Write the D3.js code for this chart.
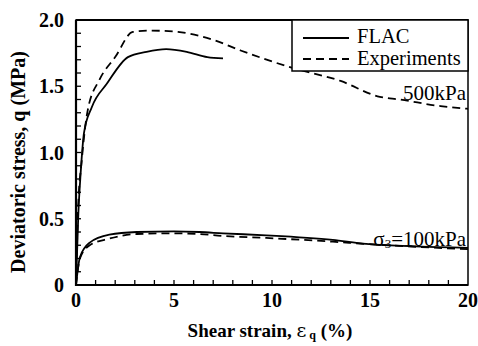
<!DOCTYPE html>
<html>
<head>
<meta charset="utf-8">
<script src="https://cdn.jsdelivr.net/npm/d3@7"></script>
<style>
body { margin: 0; background: #fff; }
svg text { font-family: "Liberation Serif", "Times New Roman", serif; fill: #000; }
.tick-label { font-size: 20px; font-weight: bold; }
.title { font-size: 20px; font-weight: bold; }
.legend { font-size: 20.5px; }
.note { font-size: 21px; }
</style>
</head>
<body>
<div id="chart"></div>
<script>

var margin = ({top: 20, right: 10, bottom: 61, left: 76})
var width = 478;
var height = 346;

// 500 kPa curves
var exp500X = [0, 0.1, 0.3, 0.6, 1.2, 2.0, 2.9, 3.8, 5.2, 7.0, 8.4, 11.0, 13.5, 15.5, 16.5, 18.6, 20];
var exp500Q = [0, 0.55, 0.95, 1.32, 1.55, 1.72, 1.91, 1.92, 1.91, 1.85, 1.77, 1.64, 1.54, 1.42, 1.40, 1.35, 1.33];
var flac500X = [0, 0.12, 0.24, 0.41, 0.8, 1.58, 2.65, 3.6, 4.6, 5.65, 6.7, 7.5];
var flac500Q = [0, 0.54, 0.85, 1.15, 1.34, 1.52, 1.72, 1.76, 1.78, 1.76, 1.72, 1.71];

// 100 kPa curves
var flac100X = [0, 0.2, 0.7, 1.7, 3.1, 5, 6.3, 7.5, 9.7, 13.1, 14.8, 20];
var flac100Q = [0, 0.21, 0.32, 0.38, 0.40, 0.405, 0.40, 0.39, 0.375, 0.34, 0.31, 0.28];
var exp100X = [0, 0.2, 0.7, 1.7, 3.1, 5, 6.3, 7.5, 9.7, 13.1, 14.8, 20];
var exp100Q = [0, 0.2, 0.30, 0.35, 0.385, 0.39, 0.385, 0.37, 0.355, 0.327, 0.31, 0.27];

var xTicks = [0, 5, 10, 15, 20];
var yTicks = [0, 0.5, 1.0, 1.5, 2.0];
var yTickLabels = ["0", "0.5", "1.0", "1.5", "2.0"];

var svg = d3.select("#chart")
  .append("svg")
    .attr("width", width)
    .attr("height", height)

let x_scale = d3.scaleLinear()
    .domain([0, 20])
    .range([margin.left, width - margin.right])

let y_scale = d3.scaleLinear()
    .domain([0, 2.0])
    .range([height - margin.bottom, margin.top])

// frame
svg.append("rect")
    .attr("x", margin.left)
    .attr("y", margin.top)
    .attr("width", width - margin.right - margin.left)
    .attr("height", height - margin.bottom - margin.top)
    .attr("fill", "none")
    .attr("stroke", "#000")
    .attr("stroke-width", 1.5)

// thicker left, bottom, top
svg.append("path")
    .attr("d", `M${margin.left},${margin.top}H${width - margin.right}M${margin.left},${margin.top}V${height - margin.bottom}H${width - margin.right}`)
    .attr("stroke", "#000")
    .attr("stroke-width", 2.2)
    .attr("fill", "none")

// minor ticks, pointing inwards
svg.append("g")
    .selectAll("line")
    .data(d3.range(1, 20))
    .enter().append("line")
      .attr("x1", d => x_scale(d))
      .attr("x2", d => x_scale(d))
      .attr("y1", height - margin.bottom)
      .attr("y2", height - margin.bottom - 5)
      .attr("stroke", "#000")
      .attr("stroke-width", 1.3)

svg.append("g")
    .selectAll("line")
    .data(d3.range(1, 20).map(d => d / 10))
    .enter().append("line")
      .attr("x1", margin.left)
      .attr("x2", margin.left + 5)
      .attr("y1", d => y_scale(d))
      .attr("y2", d => y_scale(d))
      .attr("stroke", "#000")
      .attr("stroke-width", 1.3)

// tick labels
svg.append("g")
    .selectAll("text")
    .data(xTicks)
    .enter().append("text")
      .attr("class", "tick-label")
      .attr("x", d => x_scale(d))
      .attr("y", height - margin.bottom + 22)
      .attr("text-anchor", "middle")
      .text(d => d)

svg.append("g")
    .selectAll("text")
    .data(yTicks)
    .enter().append("text")
      .attr("class", "tick-label")
      .attr("x", margin.left - 12)
      .attr("y", d => y_scale(d) + 7)
      .attr("text-anchor", "end")
      .text((d, i) => yTickLabels[i])

// axis titles
svg.append("text")
    .attr("class", "title")
    .attr("x", 270)
    .attr("y", 337)
    .attr("text-anchor", "middle")
    .style("font-size", "19px")
    .html('Shear strain, <tspan font-family="DejaVu Serif" font-weight="normal">ε</tspan><tspan font-size="12" dy="2"> q</tspan><tspan dy="-2"> (%)</tspan>')

svg.append("text")
    .attr("class", "title")
    .attr("transform", `translate(25,162) rotate(-90)`)
    .attr("text-anchor", "middle")
    .text("Deviatoric stress,  q (MPa)")

// curves
var line = d3.line()
    .x(d => x_scale(d[0]))
    .y(d => y_scale(d[1]))
    .curve(d3.curveMonotoneX)

var series = [
  {xs: exp500X, ys: exp500Q, dash: "8,5"},
  {xs: flac500X, ys: flac500Q, dash: null},
  {xs: exp100X, ys: exp100Q, dash: "8,5"},
  {xs: flac100X, ys: flac100Q, dash: null}
];

svg.selectAll(".curve")
    .data(series)
    .enter().append("path")
      .attr("class", "curve")
      .attr("d", s => line(s.xs.map((v, i) => [v, s.ys[i]])))
      .attr("fill", "none")
      .attr("stroke", "#000")
      .attr("stroke-width", 1.8)
      .attr("stroke-dasharray", s => s.dash)

// legend
var lg = svg.append("g")
lg.append("rect")
    .attr("x", 292)
    .attr("y", margin.top)
    .attr("width", width - margin.right - 292)
    .attr("height", 51)
    .attr("fill", "#fff")
    .attr("stroke", "#000")
    .attr("stroke-width", 1.5)
lg.append("line")
    .attr("x1", 303).attr("x2", 349)
    .attr("y1", 38).attr("y2", 38)
    .attr("stroke", "#000").attr("stroke-width", 1.8)
lg.append("line")
    .attr("x1", 303).attr("x2", 349)
    .attr("y1", 59).attr("y2", 59)
    .attr("stroke", "#000").attr("stroke-width", 1.8)
    .attr("stroke-dasharray", "8,5")
lg.append("text").attr("class", "legend").attr("x", 357).attr("y", 43).text("FLAC")
lg.append("text").attr("class", "legend").attr("x", 357).attr("y", 65).text("Experiments")

// annotations
svg.append("text")
    .attr("class", "note")
    .attr("x", width - margin.right - 2)
    .attr("y", 100)
    .attr("text-anchor", "end")
    .text("500kPa")

svg.append("text")
    .attr("class", "note")
    .attr("x", width - margin.right - 2)
    .attr("y", 246)
    .attr("text-anchor", "end")
    .html('σ<tspan font-size="13" dy="2">3</tspan><tspan dy="-2">=100kPa</tspan>')

</script>
</body>
</html>
